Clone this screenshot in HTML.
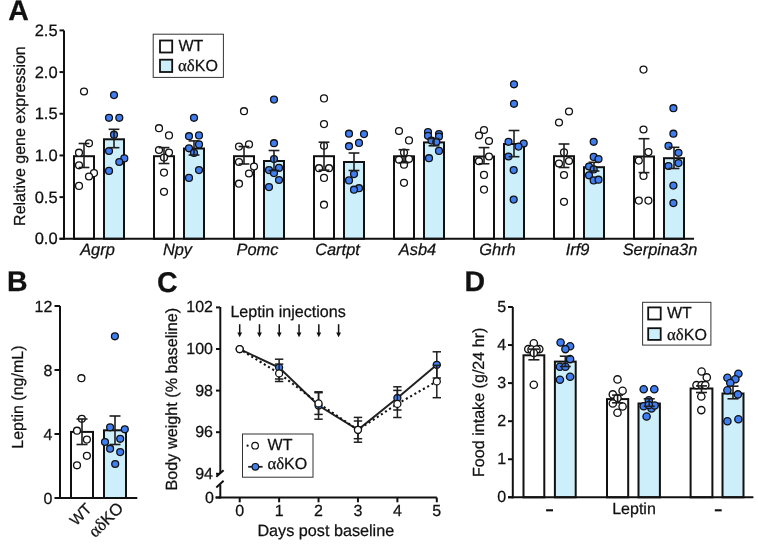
<!DOCTYPE html>
<html><head><meta charset="utf-8"><style>
html,body{margin:0;padding:0;background:#fff;}
svg{display:block;will-change:transform;}
text{fill:#111;stroke:#111;stroke-width:0.25px;text-rendering:geometricPrecision;}
</style></head><body>
<svg width="758" height="544" viewBox="0 0 758 544">
<rect x="0" y="0" width="758" height="544" fill="#fff"/>
<text x="8.30" y="19.6" font-size="28.50" text-anchor="start" font-family="Liberation Sans, sans-serif" font-weight="bold" style="">A</text>
<rect x="74.00" y="156.20" width="20.00" height="82.60" fill="#fff" stroke="#111" stroke-width="2"/>
<rect x="104.00" y="139.30" width="20.00" height="99.50" fill="#cdeefb" stroke="#111" stroke-width="2"/>
<rect x="154.00" y="156.20" width="20.00" height="82.60" fill="#fff" stroke="#111" stroke-width="2"/>
<rect x="184.00" y="148.50" width="20.00" height="90.30" fill="#cdeefb" stroke="#111" stroke-width="2"/>
<rect x="234.00" y="156.20" width="20.00" height="82.60" fill="#fff" stroke="#111" stroke-width="2"/>
<rect x="264.00" y="161.00" width="20.00" height="77.80" fill="#cdeefb" stroke="#111" stroke-width="2"/>
<rect x="314.00" y="156.20" width="20.00" height="82.60" fill="#fff" stroke="#111" stroke-width="2"/>
<rect x="344.00" y="162.00" width="20.00" height="76.80" fill="#cdeefb" stroke="#111" stroke-width="2"/>
<rect x="394.00" y="156.30" width="20.00" height="82.50" fill="#fff" stroke="#111" stroke-width="2"/>
<rect x="424.00" y="142.40" width="20.00" height="96.40" fill="#cdeefb" stroke="#111" stroke-width="2"/>
<rect x="474.00" y="156.50" width="20.00" height="82.30" fill="#fff" stroke="#111" stroke-width="2"/>
<rect x="504.00" y="144.00" width="20.00" height="94.80" fill="#cdeefb" stroke="#111" stroke-width="2"/>
<rect x="554.00" y="156.20" width="20.00" height="82.60" fill="#fff" stroke="#111" stroke-width="2"/>
<rect x="584.00" y="167.20" width="20.00" height="71.60" fill="#cdeefb" stroke="#111" stroke-width="2"/>
<rect x="634.00" y="156.50" width="20.00" height="82.30" fill="#fff" stroke="#111" stroke-width="2"/>
<rect x="664.00" y="158.20" width="20.00" height="80.60" fill="#cdeefb" stroke="#111" stroke-width="2"/>
<circle cx="84" cy="91.5" r="3.45" fill="#fff" stroke="#111" stroke-width="1.3"/>
<circle cx="89" cy="143.3" r="3.45" fill="#fff" stroke="#111" stroke-width="1.3"/>
<circle cx="79" cy="152.7" r="3.45" fill="#fff" stroke="#111" stroke-width="1.3"/>
<circle cx="79" cy="165.3" r="3.45" fill="#fff" stroke="#111" stroke-width="1.3"/>
<circle cx="94" cy="173.1" r="3.45" fill="#fff" stroke="#111" stroke-width="1.3"/>
<circle cx="89" cy="176.5" r="3.45" fill="#fff" stroke="#111" stroke-width="1.3"/>
<circle cx="79" cy="185.9" r="3.45" fill="#fff" stroke="#111" stroke-width="1.3"/>
<circle cx="114" cy="95.1" r="3.45" fill="#3f7ef2" stroke="#111" stroke-width="1.3"/>
<circle cx="109" cy="117.8" r="3.45" fill="#3f7ef2" stroke="#111" stroke-width="1.3"/>
<circle cx="119.3" cy="117.8" r="3.45" fill="#3f7ef2" stroke="#111" stroke-width="1.3"/>
<circle cx="114" cy="134.7" r="3.45" fill="#3f7ef2" stroke="#111" stroke-width="1.3"/>
<circle cx="109" cy="151" r="3.45" fill="#3f7ef2" stroke="#111" stroke-width="1.3"/>
<circle cx="124.3" cy="158.4" r="3.45" fill="#3f7ef2" stroke="#111" stroke-width="1.3"/>
<circle cx="119.3" cy="162" r="3.45" fill="#3f7ef2" stroke="#111" stroke-width="1.3"/>
<circle cx="109" cy="170.9" r="3.45" fill="#3f7ef2" stroke="#111" stroke-width="1.3"/>
<line x1="84.00" y1="143.50" x2="84.00" y2="167.50" stroke="#1e1e1e" stroke-width="1.6" />
<line x1="78.60" y1="143.50" x2="89.40" y2="143.50" stroke="#1e1e1e" stroke-width="1.6" />
<line x1="78.60" y1="167.50" x2="89.40" y2="167.50" stroke="#1e1e1e" stroke-width="1.6" />
<line x1="114.00" y1="129.30" x2="114.00" y2="147.70" stroke="#1e1e1e" stroke-width="1.6" />
<line x1="108.60" y1="129.30" x2="119.40" y2="129.30" stroke="#1e1e1e" stroke-width="1.6" />
<line x1="108.60" y1="147.70" x2="119.40" y2="147.70" stroke="#1e1e1e" stroke-width="1.6" />
<circle cx="159" cy="128.2" r="3.45" fill="#fff" stroke="#111" stroke-width="1.3"/>
<circle cx="169" cy="135.4" r="3.45" fill="#fff" stroke="#111" stroke-width="1.3"/>
<circle cx="159" cy="150" r="3.45" fill="#fff" stroke="#111" stroke-width="1.3"/>
<circle cx="169" cy="152.6" r="3.45" fill="#fff" stroke="#111" stroke-width="1.3"/>
<circle cx="164" cy="157.6" r="3.45" fill="#fff" stroke="#111" stroke-width="1.3"/>
<circle cx="164" cy="172.6" r="3.45" fill="#fff" stroke="#111" stroke-width="1.3"/>
<circle cx="164" cy="191.8" r="3.45" fill="#fff" stroke="#111" stroke-width="1.3"/>
<circle cx="194" cy="117.8" r="3.45" fill="#3f7ef2" stroke="#111" stroke-width="1.3"/>
<circle cx="189" cy="136.2" r="3.45" fill="#3f7ef2" stroke="#111" stroke-width="1.3"/>
<circle cx="199" cy="135.4" r="3.45" fill="#3f7ef2" stroke="#111" stroke-width="1.3"/>
<circle cx="199" cy="144.4" r="3.45" fill="#3f7ef2" stroke="#111" stroke-width="1.3"/>
<circle cx="189" cy="148.3" r="3.45" fill="#3f7ef2" stroke="#111" stroke-width="1.3"/>
<circle cx="194" cy="152.9" r="3.45" fill="#3f7ef2" stroke="#111" stroke-width="1.3"/>
<circle cx="199" cy="170.1" r="3.45" fill="#3f7ef2" stroke="#111" stroke-width="1.3"/>
<circle cx="189" cy="177.9" r="3.45" fill="#3f7ef2" stroke="#111" stroke-width="1.3"/>
<line x1="164.00" y1="147.60" x2="164.00" y2="163.50" stroke="#1e1e1e" stroke-width="1.6" />
<line x1="158.60" y1="147.60" x2="169.40" y2="147.60" stroke="#1e1e1e" stroke-width="1.6" />
<line x1="158.60" y1="163.50" x2="169.40" y2="163.50" stroke="#1e1e1e" stroke-width="1.6" />
<line x1="194.00" y1="140.90" x2="194.00" y2="155.00" stroke="#1e1e1e" stroke-width="1.6" />
<line x1="188.60" y1="140.90" x2="199.40" y2="140.90" stroke="#1e1e1e" stroke-width="1.6" />
<line x1="188.60" y1="155.00" x2="199.40" y2="155.00" stroke="#1e1e1e" stroke-width="1.6" />
<circle cx="244" cy="111.2" r="3.45" fill="#fff" stroke="#111" stroke-width="1.3"/>
<circle cx="249" cy="144.4" r="3.45" fill="#fff" stroke="#111" stroke-width="1.3"/>
<circle cx="239" cy="146.6" r="3.45" fill="#fff" stroke="#111" stroke-width="1.3"/>
<circle cx="239" cy="162" r="3.45" fill="#fff" stroke="#111" stroke-width="1.3"/>
<circle cx="254" cy="166.5" r="3.45" fill="#fff" stroke="#111" stroke-width="1.3"/>
<circle cx="249" cy="173.5" r="3.45" fill="#fff" stroke="#111" stroke-width="1.3"/>
<circle cx="239" cy="183.7" r="3.45" fill="#fff" stroke="#111" stroke-width="1.3"/>
<circle cx="274" cy="99.6" r="3.45" fill="#3f7ef2" stroke="#111" stroke-width="1.3"/>
<circle cx="274" cy="143.2" r="3.45" fill="#3f7ef2" stroke="#111" stroke-width="1.3"/>
<circle cx="274" cy="159.1" r="3.45" fill="#3f7ef2" stroke="#111" stroke-width="1.3"/>
<circle cx="269" cy="170.1" r="3.45" fill="#3f7ef2" stroke="#111" stroke-width="1.3"/>
<circle cx="279" cy="167.9" r="3.45" fill="#3f7ef2" stroke="#111" stroke-width="1.3"/>
<circle cx="274" cy="173.1" r="3.45" fill="#3f7ef2" stroke="#111" stroke-width="1.3"/>
<circle cx="279" cy="180" r="3.45" fill="#3f7ef2" stroke="#111" stroke-width="1.3"/>
<circle cx="269" cy="187.1" r="3.45" fill="#3f7ef2" stroke="#111" stroke-width="1.3"/>
<line x1="244.00" y1="146.50" x2="244.00" y2="164.00" stroke="#1e1e1e" stroke-width="1.6" />
<line x1="238.60" y1="146.50" x2="249.40" y2="146.50" stroke="#1e1e1e" stroke-width="1.6" />
<line x1="238.60" y1="164.00" x2="249.40" y2="164.00" stroke="#1e1e1e" stroke-width="1.6" />
<line x1="274.00" y1="150.50" x2="274.00" y2="170.50" stroke="#1e1e1e" stroke-width="1.6" />
<line x1="268.60" y1="150.50" x2="279.40" y2="150.50" stroke="#1e1e1e" stroke-width="1.6" />
<line x1="268.60" y1="170.50" x2="279.40" y2="170.50" stroke="#1e1e1e" stroke-width="1.6" />
<circle cx="324" cy="98.4" r="3.45" fill="#fff" stroke="#111" stroke-width="1.3"/>
<circle cx="324" cy="124.1" r="3.45" fill="#fff" stroke="#111" stroke-width="1.3"/>
<circle cx="324" cy="145.8" r="3.45" fill="#fff" stroke="#111" stroke-width="1.3"/>
<circle cx="319" cy="168.2" r="3.45" fill="#fff" stroke="#111" stroke-width="1.3"/>
<circle cx="329" cy="168.2" r="3.45" fill="#fff" stroke="#111" stroke-width="1.3"/>
<circle cx="324" cy="177.9" r="3.45" fill="#fff" stroke="#111" stroke-width="1.3"/>
<circle cx="324" cy="204.7" r="3.45" fill="#fff" stroke="#111" stroke-width="1.3"/>
<circle cx="349" cy="133.7" r="3.45" fill="#3f7ef2" stroke="#111" stroke-width="1.3"/>
<circle cx="364" cy="134.1" r="3.45" fill="#3f7ef2" stroke="#111" stroke-width="1.3"/>
<circle cx="359" cy="142.9" r="3.45" fill="#3f7ef2" stroke="#111" stroke-width="1.3"/>
<circle cx="349" cy="146.2" r="3.45" fill="#3f7ef2" stroke="#111" stroke-width="1.3"/>
<circle cx="354" cy="174.1" r="3.45" fill="#3f7ef2" stroke="#111" stroke-width="1.3"/>
<circle cx="349" cy="180.4" r="3.45" fill="#3f7ef2" stroke="#111" stroke-width="1.3"/>
<circle cx="359" cy="188.2" r="3.45" fill="#3f7ef2" stroke="#111" stroke-width="1.3"/>
<circle cx="354" cy="189.7" r="3.45" fill="#3f7ef2" stroke="#111" stroke-width="1.3"/>
<line x1="324.00" y1="142.20" x2="324.00" y2="170.20" stroke="#1e1e1e" stroke-width="1.6" />
<line x1="318.60" y1="142.20" x2="329.40" y2="142.20" stroke="#1e1e1e" stroke-width="1.6" />
<line x1="318.60" y1="170.20" x2="329.40" y2="170.20" stroke="#1e1e1e" stroke-width="1.6" />
<line x1="354.00" y1="153.00" x2="354.00" y2="170.50" stroke="#1e1e1e" stroke-width="1.6" />
<line x1="348.60" y1="153.00" x2="359.40" y2="153.00" stroke="#1e1e1e" stroke-width="1.6" />
<line x1="348.60" y1="170.50" x2="359.40" y2="170.50" stroke="#1e1e1e" stroke-width="1.6" />
<circle cx="399" cy="131" r="3.45" fill="#fff" stroke="#111" stroke-width="1.3"/>
<circle cx="409" cy="140.4" r="3.45" fill="#fff" stroke="#111" stroke-width="1.3"/>
<circle cx="404" cy="152.6" r="3.45" fill="#fff" stroke="#111" stroke-width="1.3"/>
<circle cx="399" cy="159.7" r="3.45" fill="#fff" stroke="#111" stroke-width="1.3"/>
<circle cx="409" cy="159" r="3.45" fill="#fff" stroke="#111" stroke-width="1.3"/>
<circle cx="404" cy="164.7" r="3.45" fill="#fff" stroke="#111" stroke-width="1.3"/>
<circle cx="404" cy="182.8" r="3.45" fill="#fff" stroke="#111" stroke-width="1.3"/>
<circle cx="428" cy="132.1" r="3.45" fill="#3f7ef2" stroke="#111" stroke-width="1.3"/>
<circle cx="428" cy="135.8" r="3.45" fill="#3f7ef2" stroke="#111" stroke-width="1.3"/>
<circle cx="439" cy="134" r="3.45" fill="#3f7ef2" stroke="#111" stroke-width="1.3"/>
<circle cx="439" cy="136.5" r="3.45" fill="#3f7ef2" stroke="#111" stroke-width="1.3"/>
<circle cx="431.5" cy="140.6" r="3.45" fill="#3f7ef2" stroke="#111" stroke-width="1.3"/>
<circle cx="436.3" cy="142" r="3.45" fill="#3f7ef2" stroke="#111" stroke-width="1.3"/>
<circle cx="439" cy="150.9" r="3.45" fill="#3f7ef2" stroke="#111" stroke-width="1.3"/>
<circle cx="429" cy="158.2" r="3.45" fill="#3f7ef2" stroke="#111" stroke-width="1.3"/>
<line x1="404.00" y1="149.70" x2="404.00" y2="162.70" stroke="#1e1e1e" stroke-width="1.6" />
<line x1="398.60" y1="149.70" x2="409.40" y2="149.70" stroke="#1e1e1e" stroke-width="1.6" />
<line x1="398.60" y1="162.70" x2="409.40" y2="162.70" stroke="#1e1e1e" stroke-width="1.6" />
<line x1="434.00" y1="138.50" x2="434.00" y2="145.80" stroke="#1e1e1e" stroke-width="1.6" />
<line x1="428.60" y1="138.50" x2="439.40" y2="138.50" stroke="#1e1e1e" stroke-width="1.6" />
<line x1="428.60" y1="145.80" x2="439.40" y2="145.80" stroke="#1e1e1e" stroke-width="1.6" />
<circle cx="484" cy="130" r="3.45" fill="#fff" stroke="#111" stroke-width="1.3"/>
<circle cx="479" cy="135.5" r="3.45" fill="#fff" stroke="#111" stroke-width="1.3"/>
<circle cx="489" cy="141" r="3.45" fill="#fff" stroke="#111" stroke-width="1.3"/>
<circle cx="489" cy="156.5" r="3.45" fill="#fff" stroke="#111" stroke-width="1.3"/>
<circle cx="479" cy="161.2" r="3.45" fill="#fff" stroke="#111" stroke-width="1.3"/>
<circle cx="484" cy="174.9" r="3.45" fill="#fff" stroke="#111" stroke-width="1.3"/>
<circle cx="484" cy="189.6" r="3.45" fill="#fff" stroke="#111" stroke-width="1.3"/>
<circle cx="514" cy="84.3" r="3.45" fill="#3f7ef2" stroke="#111" stroke-width="1.3"/>
<circle cx="514" cy="103.8" r="3.45" fill="#3f7ef2" stroke="#111" stroke-width="1.3"/>
<circle cx="508.5" cy="141.8" r="3.45" fill="#3f7ef2" stroke="#111" stroke-width="1.3"/>
<circle cx="523.7" cy="143.5" r="3.45" fill="#3f7ef2" stroke="#111" stroke-width="1.3"/>
<circle cx="518.5" cy="146.6" r="3.45" fill="#3f7ef2" stroke="#111" stroke-width="1.3"/>
<circle cx="508.5" cy="156.5" r="3.45" fill="#3f7ef2" stroke="#111" stroke-width="1.3"/>
<circle cx="513.7" cy="170.1" r="3.45" fill="#3f7ef2" stroke="#111" stroke-width="1.3"/>
<circle cx="513.7" cy="199.6" r="3.45" fill="#3f7ef2" stroke="#111" stroke-width="1.3"/>
<line x1="484.00" y1="147.60" x2="484.00" y2="163.80" stroke="#1e1e1e" stroke-width="1.6" />
<line x1="478.60" y1="147.60" x2="489.40" y2="147.60" stroke="#1e1e1e" stroke-width="1.6" />
<line x1="478.60" y1="163.80" x2="489.40" y2="163.80" stroke="#1e1e1e" stroke-width="1.6" />
<line x1="514.00" y1="130.50" x2="514.00" y2="156.70" stroke="#1e1e1e" stroke-width="1.6" />
<line x1="508.60" y1="130.50" x2="519.40" y2="130.50" stroke="#1e1e1e" stroke-width="1.6" />
<line x1="508.60" y1="156.70" x2="519.40" y2="156.70" stroke="#1e1e1e" stroke-width="1.6" />
<circle cx="569" cy="111.5" r="3.45" fill="#fff" stroke="#111" stroke-width="1.3"/>
<circle cx="559" cy="122.5" r="3.45" fill="#fff" stroke="#111" stroke-width="1.3"/>
<circle cx="564" cy="152.4" r="3.45" fill="#fff" stroke="#111" stroke-width="1.3"/>
<circle cx="559" cy="163.5" r="3.45" fill="#fff" stroke="#111" stroke-width="1.3"/>
<circle cx="569" cy="161" r="3.45" fill="#fff" stroke="#111" stroke-width="1.3"/>
<circle cx="564" cy="175" r="3.45" fill="#fff" stroke="#111" stroke-width="1.3"/>
<circle cx="564" cy="201.8" r="3.45" fill="#fff" stroke="#111" stroke-width="1.3"/>
<circle cx="593.7" cy="141.8" r="3.45" fill="#3f7ef2" stroke="#111" stroke-width="1.3"/>
<circle cx="593.7" cy="156.9" r="3.45" fill="#3f7ef2" stroke="#111" stroke-width="1.3"/>
<circle cx="598.5" cy="159.1" r="3.45" fill="#3f7ef2" stroke="#111" stroke-width="1.3"/>
<circle cx="589" cy="166.5" r="3.45" fill="#3f7ef2" stroke="#111" stroke-width="1.3"/>
<circle cx="593.7" cy="169.4" r="3.45" fill="#3f7ef2" stroke="#111" stroke-width="1.3"/>
<circle cx="589" cy="175.3" r="3.45" fill="#3f7ef2" stroke="#111" stroke-width="1.3"/>
<circle cx="593.7" cy="180.4" r="3.45" fill="#3f7ef2" stroke="#111" stroke-width="1.3"/>
<circle cx="598.5" cy="179.7" r="3.45" fill="#3f7ef2" stroke="#111" stroke-width="1.3"/>
<line x1="564.00" y1="144.00" x2="564.00" y2="167.50" stroke="#1e1e1e" stroke-width="1.6" />
<line x1="558.60" y1="144.00" x2="569.40" y2="144.00" stroke="#1e1e1e" stroke-width="1.6" />
<line x1="558.60" y1="167.50" x2="569.40" y2="167.50" stroke="#1e1e1e" stroke-width="1.6" />
<line x1="594.00" y1="162.30" x2="594.00" y2="171.00" stroke="#1e1e1e" stroke-width="1.6" />
<line x1="588.60" y1="162.30" x2="599.40" y2="162.30" stroke="#1e1e1e" stroke-width="1.6" />
<line x1="588.60" y1="171.00" x2="599.40" y2="171.00" stroke="#1e1e1e" stroke-width="1.6" />
<circle cx="643.5" cy="69.6" r="3.45" fill="#fff" stroke="#111" stroke-width="1.3"/>
<circle cx="643.5" cy="129.5" r="3.45" fill="#fff" stroke="#111" stroke-width="1.3"/>
<circle cx="648.4" cy="152.1" r="3.45" fill="#fff" stroke="#111" stroke-width="1.3"/>
<circle cx="638.8" cy="160.6" r="3.45" fill="#fff" stroke="#111" stroke-width="1.3"/>
<circle cx="643.5" cy="175.9" r="3.45" fill="#fff" stroke="#111" stroke-width="1.3"/>
<circle cx="638.8" cy="200.6" r="3.45" fill="#fff" stroke="#111" stroke-width="1.3"/>
<circle cx="648.4" cy="200.6" r="3.45" fill="#fff" stroke="#111" stroke-width="1.3"/>
<circle cx="673.4" cy="108.2" r="3.45" fill="#3f7ef2" stroke="#111" stroke-width="1.3"/>
<circle cx="673.4" cy="133.7" r="3.45" fill="#3f7ef2" stroke="#111" stroke-width="1.3"/>
<circle cx="668.5" cy="145.9" r="3.45" fill="#3f7ef2" stroke="#111" stroke-width="1.3"/>
<circle cx="678.5" cy="152.8" r="3.45" fill="#3f7ef2" stroke="#111" stroke-width="1.3"/>
<circle cx="678.5" cy="163.1" r="3.45" fill="#3f7ef2" stroke="#111" stroke-width="1.3"/>
<circle cx="668.5" cy="166" r="3.45" fill="#3f7ef2" stroke="#111" stroke-width="1.3"/>
<circle cx="673.4" cy="185.6" r="3.45" fill="#3f7ef2" stroke="#111" stroke-width="1.3"/>
<circle cx="673.4" cy="203.1" r="3.45" fill="#3f7ef2" stroke="#111" stroke-width="1.3"/>
<line x1="644.00" y1="138.70" x2="644.00" y2="172.60" stroke="#1e1e1e" stroke-width="1.6" />
<line x1="638.60" y1="138.70" x2="649.40" y2="138.70" stroke="#1e1e1e" stroke-width="1.6" />
<line x1="638.60" y1="172.60" x2="649.40" y2="172.60" stroke="#1e1e1e" stroke-width="1.6" />
<line x1="674.00" y1="147.30" x2="674.00" y2="168.50" stroke="#1e1e1e" stroke-width="1.6" />
<line x1="668.60" y1="147.30" x2="679.40" y2="147.30" stroke="#1e1e1e" stroke-width="1.6" />
<line x1="668.60" y1="168.50" x2="679.40" y2="168.50" stroke="#1e1e1e" stroke-width="1.6" />
<line x1="64.00" y1="30.40" x2="64.00" y2="239.80" stroke="#111" stroke-width="2" />
<line x1="59.50" y1="238.80" x2="694.00" y2="238.80" stroke="#111" stroke-width="2" />
<line x1="59.50" y1="238.80" x2="64.00" y2="238.80" stroke="#111" stroke-width="2" />
<text x="57.60" y="244.3" font-size="16.50" text-anchor="end" font-family="Liberation Sans, sans-serif" font-weight="normal" style=";letter-spacing:0.0px">0.0</text>
<line x1="59.50" y1="197.12" x2="64.00" y2="197.12" stroke="#111" stroke-width="2" />
<text x="57.60" y="202.62" font-size="16.50" text-anchor="end" font-family="Liberation Sans, sans-serif" font-weight="normal" style=";letter-spacing:0.0px">0.5</text>
<line x1="59.50" y1="155.44" x2="64.00" y2="155.44" stroke="#111" stroke-width="2" />
<text x="57.60" y="160.94" font-size="16.50" text-anchor="end" font-family="Liberation Sans, sans-serif" font-weight="normal" style=";letter-spacing:0.0px">1.0</text>
<line x1="59.50" y1="113.76" x2="64.00" y2="113.76" stroke="#111" stroke-width="2" />
<text x="57.60" y="119.26000000000002" font-size="16.50" text-anchor="end" font-family="Liberation Sans, sans-serif" font-weight="normal" style=";letter-spacing:0.0px">1.5</text>
<line x1="59.50" y1="72.08" x2="64.00" y2="72.08" stroke="#111" stroke-width="2" />
<text x="57.60" y="77.58000000000001" font-size="16.50" text-anchor="end" font-family="Liberation Sans, sans-serif" font-weight="normal" style=";letter-spacing:0.0px">2.0</text>
<line x1="59.50" y1="30.40" x2="64.00" y2="30.40" stroke="#111" stroke-width="2" />
<text x="57.60" y="35.900000000000006" font-size="16.50" text-anchor="end" font-family="Liberation Sans, sans-serif" font-weight="normal" style=";letter-spacing:0.0px">2.5</text>
<text x="97.50" y="254.9" font-size="16.40" text-anchor="middle" font-family="Liberation Sans, sans-serif" font-weight="normal" style="font-style:italic;letter-spacing:0.0px">Agrp</text>
<text x="177.50" y="254.9" font-size="16.40" text-anchor="middle" font-family="Liberation Sans, sans-serif" font-weight="normal" style="font-style:italic;letter-spacing:0.0px">Npy</text>
<text x="257.50" y="254.9" font-size="16.40" text-anchor="middle" font-family="Liberation Sans, sans-serif" font-weight="normal" style="font-style:italic;letter-spacing:0.0px">Pomc</text>
<text x="337.50" y="254.9" font-size="16.40" text-anchor="middle" font-family="Liberation Sans, sans-serif" font-weight="normal" style="font-style:italic;letter-spacing:0.0px">Cartpt</text>
<text x="417.50" y="254.9" font-size="16.40" text-anchor="middle" font-family="Liberation Sans, sans-serif" font-weight="normal" style="font-style:italic;letter-spacing:0.0px">Asb4</text>
<text x="497.50" y="254.9" font-size="16.40" text-anchor="middle" font-family="Liberation Sans, sans-serif" font-weight="normal" style="font-style:italic;letter-spacing:0.0px">Ghrh</text>
<text x="577.50" y="254.9" font-size="16.40" text-anchor="middle" font-family="Liberation Sans, sans-serif" font-weight="normal" style="font-style:italic;letter-spacing:0.0px">Irf9</text>
<text x="660.00" y="254.9" font-size="16.40" text-anchor="middle" font-family="Liberation Sans, sans-serif" font-weight="normal" style="font-style:italic;letter-spacing:0.0px">Serpina3n</text>
<text x="25.20" y="136.1" font-size="16.00" text-anchor="middle" font-family="Liberation Sans, sans-serif" font-weight="normal" style=";letter-spacing:0.0px" transform="rotate(-90 25.2 136.1)">Relative gene expression</text>
<rect x="153.20" y="34.20" width="70.20" height="43.20" fill="#fff" stroke="#333" stroke-width="1"/>
<rect x="160.00" y="40.50" width="12.20" height="12.00" fill="#fff" stroke="#111" stroke-width="1.8"/>
<rect x="160.00" y="59.70" width="12.20" height="12.30" fill="#cdeefb" stroke="#111" stroke-width="1.8"/>
<text x="178.50" y="51.3" font-size="16.00" text-anchor="start" font-family="Liberation Sans, sans-serif" font-weight="normal" style=";letter-spacing:0.0px">WT</text>
<text x="178.00" y="70.8" font-size="16.00" text-anchor="start" font-family="Liberation Sans" style="letter-spacing:0.0px"><tspan font-family="Liberation Serif" font-size="16.80">αδ</tspan>KO</text>
<text x="7.10" y="291.2" font-size="28.50" text-anchor="start" font-family="Liberation Sans, sans-serif" font-weight="bold" style="">B</text>
<rect x="71.00" y="431.90" width="22.00" height="66.10" fill="#fff" stroke="#111" stroke-width="2"/>
<rect x="104.00" y="430.30" width="22.00" height="67.70" fill="#cdeefb" stroke="#111" stroke-width="2"/>
<circle cx="81.4" cy="378.2" r="3.45" fill="#fff" stroke="#111" stroke-width="1.3"/>
<circle cx="81.8" cy="418.8" r="3.45" fill="#fff" stroke="#111" stroke-width="1.3"/>
<circle cx="77" cy="430.7" r="3.45" fill="#fff" stroke="#111" stroke-width="1.3"/>
<circle cx="86.9" cy="439.6" r="3.45" fill="#fff" stroke="#111" stroke-width="1.3"/>
<circle cx="86.9" cy="455.8" r="3.45" fill="#fff" stroke="#111" stroke-width="1.3"/>
<circle cx="77" cy="465.3" r="3.45" fill="#fff" stroke="#111" stroke-width="1.3"/>
<circle cx="114.9" cy="336.3" r="3.45" fill="#3f7ef2" stroke="#111" stroke-width="1.3"/>
<circle cx="110.1" cy="427.3" r="3.45" fill="#3f7ef2" stroke="#111" stroke-width="1.3"/>
<circle cx="124.8" cy="429.3" r="3.45" fill="#3f7ef2" stroke="#111" stroke-width="1.3"/>
<circle cx="120.2" cy="438.8" r="3.45" fill="#3f7ef2" stroke="#111" stroke-width="1.3"/>
<circle cx="105" cy="442" r="3.45" fill="#3f7ef2" stroke="#111" stroke-width="1.3"/>
<circle cx="110.1" cy="448.7" r="3.45" fill="#3f7ef2" stroke="#111" stroke-width="1.3"/>
<circle cx="120.2" cy="452.1" r="3.45" fill="#3f7ef2" stroke="#111" stroke-width="1.3"/>
<circle cx="115.2" cy="464" r="3.45" fill="#3f7ef2" stroke="#111" stroke-width="1.3"/>
<line x1="82.00" y1="419.00" x2="82.00" y2="444.50" stroke="#1e1e1e" stroke-width="1.6" />
<line x1="76.50" y1="419.00" x2="87.50" y2="419.00" stroke="#1e1e1e" stroke-width="1.6" />
<line x1="76.50" y1="444.50" x2="87.50" y2="444.50" stroke="#1e1e1e" stroke-width="1.6" />
<line x1="115.00" y1="416.00" x2="115.00" y2="444.50" stroke="#1e1e1e" stroke-width="1.6" />
<line x1="109.50" y1="416.00" x2="120.50" y2="416.00" stroke="#1e1e1e" stroke-width="1.6" />
<line x1="109.50" y1="444.50" x2="120.50" y2="444.50" stroke="#1e1e1e" stroke-width="1.6" />
<line x1="60.00" y1="305.90" x2="60.00" y2="499.00" stroke="#111" stroke-width="2" />
<line x1="55.00" y1="498.00" x2="137.30" y2="498.00" stroke="#111" stroke-width="2" />
<line x1="54.50" y1="498.00" x2="60.00" y2="498.00" stroke="#111" stroke-width="2" />
<text x="52.30" y="504" font-size="16.00" text-anchor="end" font-family="Liberation Sans, sans-serif" font-weight="normal" style=";letter-spacing:0.0px">0</text>
<line x1="54.50" y1="434.00" x2="60.00" y2="434.00" stroke="#111" stroke-width="2" />
<text x="52.30" y="440" font-size="16.00" text-anchor="end" font-family="Liberation Sans, sans-serif" font-weight="normal" style=";letter-spacing:0.0px">4</text>
<line x1="54.50" y1="370.00" x2="60.00" y2="370.00" stroke="#111" stroke-width="2" />
<text x="52.30" y="376" font-size="16.00" text-anchor="end" font-family="Liberation Sans, sans-serif" font-weight="normal" style=";letter-spacing:0.0px">8</text>
<line x1="54.50" y1="306.00" x2="60.00" y2="306.00" stroke="#111" stroke-width="2" />
<text x="52.30" y="312" font-size="16.00" text-anchor="end" font-family="Liberation Sans, sans-serif" font-weight="normal" style=";letter-spacing:0.0px">12</text>
<text x="22.90" y="397.1" font-size="16.00" text-anchor="middle" font-family="Liberation Sans, sans-serif" font-weight="normal" style=";letter-spacing:0.0px" transform="rotate(-90 22.9 397.1)">Leptin (ng/mL)</text>
<text x="92.60" y="509.8" font-size="15.20" text-anchor="end" font-family="Liberation Sans, sans-serif" font-weight="normal" style=";letter-spacing:0.0px" transform="rotate(-45 92.6 509.8)">WT</text>
<text x="124.50" y="509" font-size="16.60" text-anchor="end" font-family="Liberation Sans" style="letter-spacing:0.0px" transform="rotate(-45 124.5 509)"><tspan font-family="Liberation Serif" font-size="17.43">αδ</tspan>KO</text>
<text x="157.00" y="291.5" font-size="28.50" text-anchor="start" font-family="Liberation Sans, sans-serif" font-weight="bold" style="">C</text>
<line x1="220.30" y1="306.90" x2="220.30" y2="473.00" stroke="#111" stroke-width="2" />
<line x1="220.30" y1="484.60" x2="220.30" y2="498.50" stroke="#111" stroke-width="2" />
<line x1="216.30" y1="476.80" x2="223.60" y2="470.20" stroke="#111" stroke-width="2" />
<line x1="216.30" y1="487.50" x2="223.60" y2="480.80" stroke="#111" stroke-width="2" />
<line x1="215.40" y1="497.50" x2="436.80" y2="497.50" stroke="#111" stroke-width="2" />
<line x1="216.00" y1="473.80" x2="220.00" y2="473.80" stroke="#111" stroke-width="2" />
<text x="213.00" y="478.8" font-size="16.00" text-anchor="end" font-family="Liberation Sans, sans-serif" font-weight="normal" style=";letter-spacing:0.0px">94</text>
<line x1="216.00" y1="432.20" x2="220.00" y2="432.20" stroke="#111" stroke-width="2" />
<text x="213.00" y="437.2" font-size="16.00" text-anchor="end" font-family="Liberation Sans, sans-serif" font-weight="normal" style=";letter-spacing:0.0px">96</text>
<line x1="216.00" y1="390.60" x2="220.00" y2="390.60" stroke="#111" stroke-width="2" />
<text x="213.00" y="395.6" font-size="16.00" text-anchor="end" font-family="Liberation Sans, sans-serif" font-weight="normal" style=";letter-spacing:0.0px">98</text>
<line x1="216.00" y1="349.00" x2="220.00" y2="349.00" stroke="#111" stroke-width="2" />
<text x="213.00" y="354.0" font-size="16.00" text-anchor="end" font-family="Liberation Sans, sans-serif" font-weight="normal" style=";letter-spacing:0.0px">100</text>
<line x1="216.00" y1="307.40" x2="220.00" y2="307.40" stroke="#111" stroke-width="2" />
<text x="213.00" y="312.4" font-size="16.00" text-anchor="end" font-family="Liberation Sans, sans-serif" font-weight="normal" style=";letter-spacing:0.0px">102</text>
<line x1="216.00" y1="497.50" x2="220.00" y2="497.50" stroke="#111" stroke-width="2" />
<text x="214.00" y="503" font-size="16.00" text-anchor="end" font-family="Liberation Sans, sans-serif" font-weight="normal" style=";letter-spacing:0.0px">0</text>
<line x1="239.70" y1="497.50" x2="239.70" y2="502.30" stroke="#111" stroke-width="2" />
<text x="239.70" y="516" font-size="16.00" text-anchor="middle" font-family="Liberation Sans, sans-serif" font-weight="normal" style=";letter-spacing:0.0px">0</text>
<line x1="279.12" y1="497.50" x2="279.12" y2="502.30" stroke="#111" stroke-width="2" />
<text x="279.12" y="516" font-size="16.00" text-anchor="middle" font-family="Liberation Sans, sans-serif" font-weight="normal" style=";letter-spacing:0.0px">1</text>
<line x1="318.54" y1="497.50" x2="318.54" y2="502.30" stroke="#111" stroke-width="2" />
<text x="318.54" y="516" font-size="16.00" text-anchor="middle" font-family="Liberation Sans, sans-serif" font-weight="normal" style=";letter-spacing:0.0px">2</text>
<line x1="357.96" y1="497.50" x2="357.96" y2="502.30" stroke="#111" stroke-width="2" />
<text x="357.96" y="516" font-size="16.00" text-anchor="middle" font-family="Liberation Sans, sans-serif" font-weight="normal" style=";letter-spacing:0.0px">3</text>
<line x1="397.38" y1="497.50" x2="397.38" y2="502.30" stroke="#111" stroke-width="2" />
<text x="397.38" y="516" font-size="16.00" text-anchor="middle" font-family="Liberation Sans, sans-serif" font-weight="normal" style=";letter-spacing:0.0px">4</text>
<line x1="436.80" y1="497.50" x2="436.80" y2="502.30" stroke="#111" stroke-width="2" />
<text x="436.80" y="516" font-size="16.00" text-anchor="middle" font-family="Liberation Sans, sans-serif" font-weight="normal" style=";letter-spacing:0.0px">5</text>
<text x="325.80" y="536.3" font-size="16.20" text-anchor="middle" font-family="Liberation Sans, sans-serif" font-weight="normal" style=";letter-spacing:0.0px">Days post baseline</text>
<text x="177.40" y="399.1" font-size="16.20" text-anchor="middle" font-family="Liberation Sans, sans-serif" font-weight="normal" style=";letter-spacing:0.0px" transform="rotate(-90 177.4 399.1)">Body weight (% baseline)</text>
<text x="230.40" y="316.6" font-size="16.10" text-anchor="start" font-family="Liberation Sans, sans-serif" font-weight="normal" style=";letter-spacing:0.0px">Leptin injections</text>
<line x1="239.70" y1="324.20" x2="239.70" y2="334.00" stroke="#111" stroke-width="1.5" />
<path d="M237.29999999999998,332.6 L242.1,332.6 L239.7,337.3 Z" fill="#111"/>
<line x1="259.48" y1="324.20" x2="259.48" y2="334.00" stroke="#111" stroke-width="1.5" />
<path d="M257.08000000000004,332.6 L261.88,332.6 L259.48,337.3 Z" fill="#111"/>
<line x1="279.26" y1="324.20" x2="279.26" y2="334.00" stroke="#111" stroke-width="1.5" />
<path d="M276.86,332.6 L281.65999999999997,332.6 L279.26,337.3 Z" fill="#111"/>
<line x1="299.04" y1="324.20" x2="299.04" y2="334.00" stroke="#111" stroke-width="1.5" />
<path d="M296.64,332.6 L301.43999999999994,332.6 L299.03999999999996,337.3 Z" fill="#111"/>
<line x1="318.82" y1="324.20" x2="318.82" y2="334.00" stroke="#111" stroke-width="1.5" />
<path d="M316.42,332.6 L321.21999999999997,332.6 L318.82,337.3 Z" fill="#111"/>
<line x1="338.60" y1="324.20" x2="338.60" y2="334.00" stroke="#111" stroke-width="1.5" />
<path d="M336.20000000000005,332.6 L341.0,332.6 L338.6,337.3 Z" fill="#111"/>
<polyline points="239.7,349.1 279.12,367.6 318.53999999999996,405.5 357.96,429.8 397.38,398 436.8,364.8" fill="none" stroke="#222" stroke-width="2"/>
<polyline points="239.7,349.1 279.12,373.4 318.53999999999996,403.4 357.96,429.8 397.38,403.9 436.8,381.4" fill="none" stroke="#111" stroke-width="2.1" stroke-dasharray="0.01 4.9" stroke-linecap="square"/>
<line x1="279.12" y1="359.20" x2="279.12" y2="379.00" stroke="#1e1e1e" stroke-width="1.5" />
<line x1="274.92" y1="359.20" x2="283.32" y2="359.20" stroke="#1e1e1e" stroke-width="1.5" />
<line x1="274.92" y1="379.00" x2="283.32" y2="379.00" stroke="#1e1e1e" stroke-width="1.5" />
<line x1="318.54" y1="391.80" x2="318.54" y2="419.20" stroke="#1e1e1e" stroke-width="1.5" />
<line x1="314.34" y1="391.80" x2="322.74" y2="391.80" stroke="#1e1e1e" stroke-width="1.5" />
<line x1="314.34" y1="419.20" x2="322.74" y2="419.20" stroke="#1e1e1e" stroke-width="1.5" />
<line x1="357.96" y1="417.40" x2="357.96" y2="442.20" stroke="#1e1e1e" stroke-width="1.5" />
<line x1="353.76" y1="417.40" x2="362.16" y2="417.40" stroke="#1e1e1e" stroke-width="1.5" />
<line x1="353.76" y1="442.20" x2="362.16" y2="442.20" stroke="#1e1e1e" stroke-width="1.5" />
<line x1="397.38" y1="386.80" x2="397.38" y2="410.00" stroke="#1e1e1e" stroke-width="1.5" />
<line x1="393.18" y1="386.80" x2="401.58" y2="386.80" stroke="#1e1e1e" stroke-width="1.5" />
<line x1="393.18" y1="410.00" x2="401.58" y2="410.00" stroke="#1e1e1e" stroke-width="1.5" />
<line x1="436.80" y1="351.80" x2="436.80" y2="378.00" stroke="#1e1e1e" stroke-width="1.5" />
<line x1="432.60" y1="351.80" x2="441.00" y2="351.80" stroke="#1e1e1e" stroke-width="1.5" />
<line x1="432.60" y1="378.00" x2="441.00" y2="378.00" stroke="#1e1e1e" stroke-width="1.5" />
<circle cx="239.7" cy="349.1" r="3.5" fill="#3f7ef2" stroke="#111" stroke-width="1.3"/>
<circle cx="279.12" cy="367.6" r="3.5" fill="#3f7ef2" stroke="#111" stroke-width="1.3"/>
<circle cx="318.53999999999996" cy="405.5" r="3.5" fill="#3f7ef2" stroke="#111" stroke-width="1.3"/>
<circle cx="357.96" cy="429.8" r="3.5" fill="#3f7ef2" stroke="#111" stroke-width="1.3"/>
<circle cx="397.38" cy="398" r="3.5" fill="#3f7ef2" stroke="#111" stroke-width="1.3"/>
<circle cx="436.8" cy="364.8" r="3.5" fill="#3f7ef2" stroke="#111" stroke-width="1.3"/>
<line x1="279.12" y1="364.10" x2="279.12" y2="381.50" stroke="#1e1e1e" stroke-width="1.5" />
<line x1="274.92" y1="364.10" x2="283.32" y2="364.10" stroke="#1e1e1e" stroke-width="1.5" />
<line x1="274.92" y1="381.50" x2="283.32" y2="381.50" stroke="#1e1e1e" stroke-width="1.5" />
<line x1="318.54" y1="392.70" x2="318.54" y2="414.40" stroke="#1e1e1e" stroke-width="1.5" />
<line x1="314.34" y1="392.70" x2="322.74" y2="392.70" stroke="#1e1e1e" stroke-width="1.5" />
<line x1="314.34" y1="414.40" x2="322.74" y2="414.40" stroke="#1e1e1e" stroke-width="1.5" />
<line x1="357.96" y1="421.00" x2="357.96" y2="438.70" stroke="#1e1e1e" stroke-width="1.5" />
<line x1="353.76" y1="421.00" x2="362.16" y2="421.00" stroke="#1e1e1e" stroke-width="1.5" />
<line x1="353.76" y1="438.70" x2="362.16" y2="438.70" stroke="#1e1e1e" stroke-width="1.5" />
<line x1="397.38" y1="390.40" x2="397.38" y2="417.50" stroke="#1e1e1e" stroke-width="1.5" />
<line x1="393.18" y1="390.40" x2="401.58" y2="390.40" stroke="#1e1e1e" stroke-width="1.5" />
<line x1="393.18" y1="417.50" x2="401.58" y2="417.50" stroke="#1e1e1e" stroke-width="1.5" />
<line x1="436.80" y1="365.40" x2="436.80" y2="397.70" stroke="#1e1e1e" stroke-width="1.5" />
<line x1="432.60" y1="365.40" x2="441.00" y2="365.40" stroke="#1e1e1e" stroke-width="1.5" />
<line x1="432.60" y1="397.70" x2="441.00" y2="397.70" stroke="#1e1e1e" stroke-width="1.5" />
<circle cx="239.7" cy="349.1" r="3.5" fill="#fff" stroke="#111" stroke-width="1.3"/>
<circle cx="279.12" cy="373.4" r="3.5" fill="#fff" stroke="#111" stroke-width="1.3"/>
<circle cx="318.53999999999996" cy="403.4" r="3.5" fill="#fff" stroke="#111" stroke-width="1.3"/>
<circle cx="357.96" cy="429.8" r="3.5" fill="#fff" stroke="#111" stroke-width="1.3"/>
<circle cx="397.38" cy="403.9" r="3.5" fill="#fff" stroke="#111" stroke-width="1.3"/>
<circle cx="436.8" cy="381.4" r="3.5" fill="#fff" stroke="#111" stroke-width="1.3"/>
<rect x="242.50" y="434.00" width="70.50" height="43.20" fill="#fff" stroke="#333" stroke-width="1"/>
<circle cx="247.6" cy="445.7" r="1.1" fill="#111"/>
<circle cx="255.1" cy="445.7" r="3.3" fill="#fff" stroke="#111" stroke-width="1.2"/>
<text x="267.60" y="450.4" font-size="16.00" text-anchor="start" font-family="Liberation Sans, sans-serif" font-weight="normal" style=";letter-spacing:0.0px">WT</text>
<line x1="248.20" y1="466.80" x2="262.60" y2="466.80" stroke="#222" stroke-width="1.8" />
<circle cx="255.4" cy="466.8" r="3.3" fill="#3f7ef2" stroke="#111" stroke-width="1.2"/>
<text x="267.40" y="469.2" font-size="16.00" text-anchor="start" font-family="Liberation Sans" style="letter-spacing:0.0px"><tspan font-family="Liberation Serif" font-size="16.80">αδ</tspan>KO</text>
<text x="464.40" y="290.9" font-size="28.50" text-anchor="start" font-family="Liberation Sans, sans-serif" font-weight="bold" style="">D</text>
<rect x="523.50" y="355.30" width="20.80" height="142.00" fill="#fff" stroke="#111" stroke-width="2"/>
<rect x="554.90" y="361.60" width="20.80" height="135.70" fill="#cdeefb" stroke="#111" stroke-width="2"/>
<rect x="607.00" y="399.10" width="21.20" height="98.20" fill="#fff" stroke="#111" stroke-width="2"/>
<rect x="638.50" y="403.50" width="21.40" height="93.80" fill="#cdeefb" stroke="#111" stroke-width="2"/>
<rect x="690.60" y="388.50" width="21.80" height="108.80" fill="#fff" stroke="#111" stroke-width="2"/>
<rect x="722.50" y="393.50" width="21.00" height="103.80" fill="#cdeefb" stroke="#111" stroke-width="2"/>
<circle cx="533.8" cy="343.3" r="3.65" fill="#fff" stroke="#111" stroke-width="1.35"/>
<circle cx="528.3" cy="349.1" r="3.65" fill="#fff" stroke="#111" stroke-width="1.35"/>
<circle cx="539.3" cy="349.1" r="3.65" fill="#fff" stroke="#111" stroke-width="1.35"/>
<circle cx="531.5" cy="349.5" r="3.65" fill="#fff" stroke="#111" stroke-width="1.35"/>
<circle cx="536.5" cy="349.5" r="3.65" fill="#fff" stroke="#111" stroke-width="1.35"/>
<circle cx="533.8" cy="353" r="3.65" fill="#fff" stroke="#111" stroke-width="1.35"/>
<circle cx="533.8" cy="384.7" r="3.65" fill="#fff" stroke="#111" stroke-width="1.35"/>
<circle cx="560.6" cy="342.5" r="3.65" fill="#3f7ef2" stroke="#111" stroke-width="1.35"/>
<circle cx="570.1" cy="346.2" r="3.65" fill="#3f7ef2" stroke="#111" stroke-width="1.35"/>
<circle cx="565.4" cy="349.1" r="3.65" fill="#3f7ef2" stroke="#111" stroke-width="1.35"/>
<circle cx="570.1" cy="359.1" r="3.65" fill="#3f7ef2" stroke="#111" stroke-width="1.35"/>
<circle cx="559.9" cy="366.8" r="3.65" fill="#3f7ef2" stroke="#111" stroke-width="1.35"/>
<circle cx="565.4" cy="366.8" r="3.65" fill="#3f7ef2" stroke="#111" stroke-width="1.35"/>
<circle cx="559.9" cy="379.7" r="3.65" fill="#3f7ef2" stroke="#111" stroke-width="1.35"/>
<circle cx="570.1" cy="376.8" r="3.65" fill="#3f7ef2" stroke="#111" stroke-width="1.35"/>
<line x1="533.90" y1="349.10" x2="533.90" y2="359.80" stroke="#1e1e1e" stroke-width="1.6" />
<line x1="528.40" y1="349.10" x2="539.40" y2="349.10" stroke="#1e1e1e" stroke-width="1.6" />
<line x1="528.40" y1="359.80" x2="539.40" y2="359.80" stroke="#1e1e1e" stroke-width="1.6" />
<line x1="565.30" y1="356.20" x2="565.30" y2="366.50" stroke="#1e1e1e" stroke-width="1.6" />
<line x1="559.80" y1="356.20" x2="570.80" y2="356.20" stroke="#1e1e1e" stroke-width="1.6" />
<line x1="559.80" y1="366.50" x2="570.80" y2="366.50" stroke="#1e1e1e" stroke-width="1.6" />
<circle cx="617.5" cy="379.4" r="3.65" fill="#fff" stroke="#111" stroke-width="1.35"/>
<circle cx="622.6" cy="390.7" r="3.65" fill="#fff" stroke="#111" stroke-width="1.35"/>
<circle cx="612.8" cy="394.4" r="3.65" fill="#fff" stroke="#111" stroke-width="1.35"/>
<circle cx="617.5" cy="398.1" r="3.65" fill="#fff" stroke="#111" stroke-width="1.35"/>
<circle cx="612.8" cy="403.5" r="3.65" fill="#fff" stroke="#111" stroke-width="1.35"/>
<circle cx="622.6" cy="406.5" r="3.65" fill="#fff" stroke="#111" stroke-width="1.35"/>
<circle cx="617.5" cy="412.8" r="3.65" fill="#fff" stroke="#111" stroke-width="1.35"/>
<circle cx="643.7" cy="389.3" r="3.65" fill="#3f7ef2" stroke="#111" stroke-width="1.35"/>
<circle cx="654.3" cy="389.3" r="3.65" fill="#3f7ef2" stroke="#111" stroke-width="1.35"/>
<circle cx="648.8" cy="400.3" r="3.65" fill="#3f7ef2" stroke="#111" stroke-width="1.35"/>
<circle cx="643.7" cy="406.2" r="3.65" fill="#3f7ef2" stroke="#111" stroke-width="1.35"/>
<circle cx="651.5" cy="408.4" r="3.65" fill="#3f7ef2" stroke="#111" stroke-width="1.35"/>
<circle cx="654.7" cy="405.5" r="3.65" fill="#3f7ef2" stroke="#111" stroke-width="1.35"/>
<circle cx="646.6" cy="416.5" r="3.65" fill="#3f7ef2" stroke="#111" stroke-width="1.35"/>
<circle cx="648.8" cy="405" r="3.65" fill="#3f7ef2" stroke="#111" stroke-width="1.35"/>
<line x1="617.60" y1="395.10" x2="617.60" y2="402.80" stroke="#1e1e1e" stroke-width="1.6" />
<line x1="612.10" y1="395.10" x2="623.10" y2="395.10" stroke="#1e1e1e" stroke-width="1.6" />
<line x1="612.10" y1="402.80" x2="623.10" y2="402.80" stroke="#1e1e1e" stroke-width="1.6" />
<line x1="649.20" y1="398.80" x2="649.20" y2="406.30" stroke="#1e1e1e" stroke-width="1.6" />
<line x1="643.70" y1="398.80" x2="654.70" y2="398.80" stroke="#1e1e1e" stroke-width="1.6" />
<line x1="643.70" y1="406.30" x2="654.70" y2="406.30" stroke="#1e1e1e" stroke-width="1.6" />
<circle cx="701.6" cy="371.5" r="3.65" fill="#fff" stroke="#111" stroke-width="1.35"/>
<circle cx="706.8" cy="377.4" r="3.65" fill="#fff" stroke="#111" stroke-width="1.35"/>
<circle cx="696.5" cy="385.1" r="3.65" fill="#fff" stroke="#111" stroke-width="1.35"/>
<circle cx="701.6" cy="385.1" r="3.65" fill="#fff" stroke="#111" stroke-width="1.35"/>
<circle cx="705.3" cy="385.1" r="3.65" fill="#fff" stroke="#111" stroke-width="1.35"/>
<circle cx="701.3" cy="396.5" r="3.65" fill="#fff" stroke="#111" stroke-width="1.35"/>
<circle cx="701.3" cy="410.1" r="3.65" fill="#fff" stroke="#111" stroke-width="1.35"/>
<circle cx="738.4" cy="373.7" r="3.65" fill="#3f7ef2" stroke="#111" stroke-width="1.35"/>
<circle cx="727.4" cy="377.8" r="3.65" fill="#3f7ef2" stroke="#111" stroke-width="1.35"/>
<circle cx="735.4" cy="379.3" r="3.65" fill="#3f7ef2" stroke="#111" stroke-width="1.35"/>
<circle cx="730.3" cy="383" r="3.65" fill="#3f7ef2" stroke="#111" stroke-width="1.35"/>
<circle cx="727.4" cy="390.3" r="3.65" fill="#3f7ef2" stroke="#111" stroke-width="1.35"/>
<circle cx="737.9" cy="394.4" r="3.65" fill="#3f7ef2" stroke="#111" stroke-width="1.35"/>
<circle cx="727.4" cy="421.2" r="3.65" fill="#3f7ef2" stroke="#111" stroke-width="1.35"/>
<circle cx="738.4" cy="419.3" r="3.65" fill="#3f7ef2" stroke="#111" stroke-width="1.35"/>
<line x1="701.50" y1="385.90" x2="701.50" y2="392.50" stroke="#1e1e1e" stroke-width="1.6" />
<line x1="696.00" y1="385.90" x2="707.00" y2="385.90" stroke="#1e1e1e" stroke-width="1.6" />
<line x1="696.00" y1="392.50" x2="707.00" y2="392.50" stroke="#1e1e1e" stroke-width="1.6" />
<line x1="733.00" y1="386.20" x2="733.00" y2="398.80" stroke="#1e1e1e" stroke-width="1.6" />
<line x1="727.50" y1="386.20" x2="738.50" y2="386.20" stroke="#1e1e1e" stroke-width="1.6" />
<line x1="727.50" y1="398.80" x2="738.50" y2="398.80" stroke="#1e1e1e" stroke-width="1.6" />
<line x1="512.80" y1="306.90" x2="512.80" y2="498.30" stroke="#111" stroke-width="2" />
<line x1="508.00" y1="497.30" x2="753.40" y2="497.30" stroke="#111" stroke-width="2" />
<line x1="508.00" y1="497.30" x2="512.80" y2="497.30" stroke="#111" stroke-width="2" />
<text x="506.20" y="502.1" font-size="16.00" text-anchor="end" font-family="Liberation Sans, sans-serif" font-weight="normal" style=";letter-spacing:0.0px">0</text>
<line x1="508.00" y1="459.24" x2="512.80" y2="459.24" stroke="#111" stroke-width="2" />
<text x="506.20" y="464.04" font-size="16.00" text-anchor="end" font-family="Liberation Sans, sans-serif" font-weight="normal" style=";letter-spacing:0.0px">1</text>
<line x1="508.00" y1="421.18" x2="512.80" y2="421.18" stroke="#111" stroke-width="2" />
<text x="506.20" y="425.98" font-size="16.00" text-anchor="end" font-family="Liberation Sans, sans-serif" font-weight="normal" style=";letter-spacing:0.0px">2</text>
<line x1="508.00" y1="383.12" x2="512.80" y2="383.12" stroke="#111" stroke-width="2" />
<text x="506.20" y="387.92" font-size="16.00" text-anchor="end" font-family="Liberation Sans, sans-serif" font-weight="normal" style=";letter-spacing:0.0px">3</text>
<line x1="508.00" y1="345.06" x2="512.80" y2="345.06" stroke="#111" stroke-width="2" />
<text x="506.20" y="349.86" font-size="16.00" text-anchor="end" font-family="Liberation Sans, sans-serif" font-weight="normal" style=";letter-spacing:0.0px">4</text>
<line x1="508.00" y1="307.00" x2="512.80" y2="307.00" stroke="#111" stroke-width="2" />
<text x="506.20" y="311.8" font-size="16.00" text-anchor="end" font-family="Liberation Sans, sans-serif" font-weight="normal" style=";letter-spacing:0.0px">5</text>
<text x="484.00" y="402.3" font-size="16.10" text-anchor="middle" font-family="Liberation Sans, sans-serif" font-weight="normal" style=";letter-spacing:0.0px" transform="rotate(-90 484 402.3)">Food intake (g/24 hr)</text>
<line x1="546.10" y1="510.30" x2="553.00" y2="510.30" stroke="#111" stroke-width="2.1" />
<line x1="714.80" y1="510.30" x2="721.70" y2="510.30" stroke="#111" stroke-width="2.1" />
<text x="634.00" y="513.5" font-size="16.00" text-anchor="middle" font-family="Liberation Sans, sans-serif" font-weight="normal" style=";letter-spacing:0.0px">Leptin</text>
<rect x="642.60" y="302.30" width="68.30" height="42.80" fill="#fff" stroke="#333" stroke-width="1"/>
<rect x="648.20" y="307.40" width="12.50" height="12.10" fill="#fff" stroke="#111" stroke-width="1.8"/>
<rect x="648.20" y="328.20" width="12.50" height="11.70" fill="#cdeefb" stroke="#111" stroke-width="1.8"/>
<text x="667.00" y="318.3" font-size="16.00" text-anchor="start" font-family="Liberation Sans, sans-serif" font-weight="normal" style=";letter-spacing:0.0px">WT</text>
<text x="667.00" y="339.8" font-size="16.00" text-anchor="start" font-family="Liberation Sans" style="letter-spacing:0.0px"><tspan font-family="Liberation Serif" font-size="16.80">αδ</tspan>KO</text>
</svg></body></html>
